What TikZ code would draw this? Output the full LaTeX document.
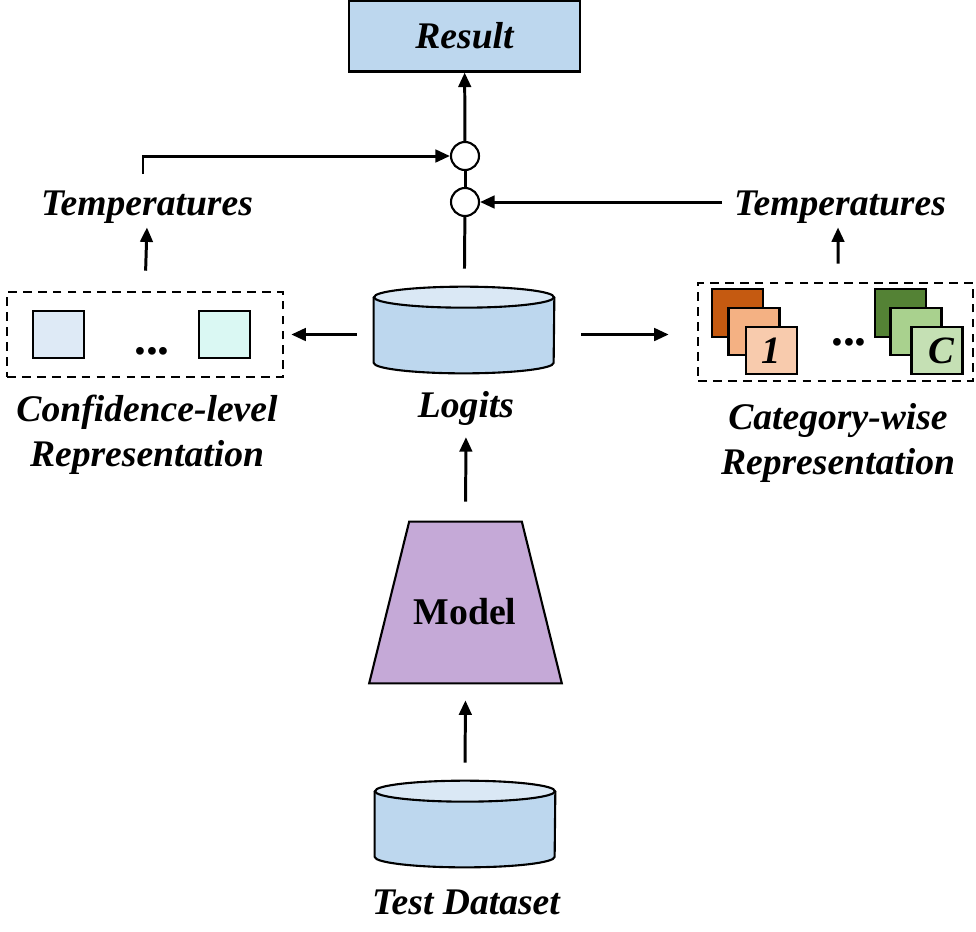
\documentclass[tikz,border=0pt]{standalone}
\usepackage{fontspec}
\setmainfont{Liberation Serif}
\usetikzlibrary{shapes.geometric, arrows.meta, positioning}

\definecolor{boxblue}{HTML}{BDD7EE}
\definecolor{cyltop}{HTML}{DAE8F5}
\definecolor{modelpurple}{HTML}{C5A9D7}
\definecolor{confA}{HTML}{DEEAF6}
\definecolor{confB}{HTML}{DAF8F3}
\definecolor{orangeA}{HTML}{C55A11}
\definecolor{orangeB}{HTML}{F4B183}
\definecolor{orangeC}{HTML}{F8CBAD}
\definecolor{greenA}{HTML}{548235}
\definecolor{greenB}{HTML}{A9D18E}
\definecolor{greenC}{HTML}{C5E0B4}

% cylinder: name, x, y (centre, in px)
\newcommand{\dbcyl}[3]{%
  \node[dbbody] (#1) at (#2,#3) {};
  \draw[line width=1.2pt, fill=boxblue] ([yshift=-0.21cm]#1.north west) -- ([yshift=0.21cm]#1.south west)
    arc[start angle=180, end angle=360, x radius=1.8cm, y radius=0.21cm] -- ([yshift=-0.21cm]#1.north east);
  \draw[line width=1.2pt, fill=cyltop] ([yshift=-0.21cm]#1.north) ellipse[x radius=1.8cm, y radius=0.21cm];
}

\begin{document}
\begin{tikzpicture}[x=0.02cm, y=-0.02cm,
  label/.style={font=\fontsize{21.4}{25.5}\selectfont\bfseries\itshape, align=center, inner sep=1pt},
  resultbox/.style={draw, line width=1.2pt, fill=boxblue, minimum width=4.62cm, minimum height=1.42cm, font=\fontsize{21.4}{25}\selectfont\bfseries\itshape},
  joint/.style={draw, circle, line width=1.2pt, fill=white, minimum size=0.56cm, inner sep=0pt},
  dbbody/.style={draw=none, minimum width=3.6cm, minimum height=1.72cm, inner sep=0pt},
  modelbody/.style={draw=none, minimum width=3.84cm, minimum height=3.22cm, inner sep=0pt},
  group/.style={draw, dash pattern=on 5pt off 3.5pt, line width=1.5pt},
  sq/.style={draw, line width=1.2pt, minimum width=1.02cm, minimum height=0.95cm, inner sep=0pt, font=\fontsize{22}{25}\selectfont\bfseries\itshape},
  dots/.style={font=\fontsize{27}{30}\selectfont\bfseries},
  arrow/.style={-{Triangle[length=0.29cm, width=0.25cm]}, line width=1.7pt},
  line/.style={line width=1.7pt}
]
\useasboundingbox (0,0) rectangle (976,931);

\node[resultbox] (result) at (464.5,36) {\raisebox{-2pt}{Result}};
\node[joint] (cup) at (465,156) {};
\node[joint] (cdown) at (465,202) {};

\node[label] (templ) at (147,207) {Temperatures};
\node[label] (tempr) at (840,207) {Temperatures};

\dbcyl{logits}{464}{330}
\node[label] (logitslab) at (466,408) {Logits};

% confidence-level representation
\node[group, minimum width=5.52cm, minimum height=1.7cm] (confbox) at (145,334.5) {};
\node[sq, fill=confA] (confa) at (58.5,334.5) {};
\node[sq, fill=confB] (confb) at (224.5,334.5) {};
\node[dots] (confdots) at (152,351) {...};
\node[label] (conflab) at (147,435) {Confidence-level\\Representation};

% category-wise representation
\node[group, minimum width=5.5cm, minimum height=1.96cm] (catbox) at (835.5,332) {};
\node[sq, fill=orangeA] (oa) at (737.5,313) {};
\node[sq, fill=orangeB] (ob) at (754,331.5) {};
\node[sq, fill=orangeC] (oc) at (771.5,350.5) {\raisebox{-9pt}{1}};
\node[sq, fill=greenA] (ga) at (900.5,313) {};
\node[sq, fill=greenB] (gb) at (916,331.5) {};
\node[sq, fill=greenC] (gc) at (937,350.5) {\raisebox{-9pt}{\hspace{5pt}C}};
\node[dots] (catdots) at (849,342) {...};
\node[label] (catlab) at (838,443) {Category-wise\\Representation};

% model (trapezium drawn by hand)
\node[modelbody] (model) at (465.5,602.5) {};
\draw[line width=1.2pt, fill=modelpurple] (model.south west) -- (model.south east)
  -- ([xshift=-0.8cm]model.north east) -- ([xshift=0.8cm]model.north west) -- cycle;
\node[font=\fontsize{21.5}{25}\selectfont\bfseries] (modellab) at (465,612) {Model};

\dbcyl{testdata}{465}{824}
\node[label] (testlab) at (466,902) {Test Dataset};

% connectors
\draw[arrow] (cup) -- (result);
\draw[line] (cdown) -- (cup);
\draw[line, shorten <=0.36cm] (logits) -- (cdown);
\coordinate (tlstart) at (143,174);
\draw[arrow] (tlstart) |- (cup);
\draw[arrow, shorten <=0.2cm] (tempr.west |- cdown) -- (cdown);
\draw[arrow, shorten <=0.4cm, shorten >=0.04cm] (confbox.north) -- (templ.south);
\draw[arrow, shorten <=0.36cm, shorten >=0.04cm] ([xshift=0.05cm]catbox.north) -- ([xshift=-0.04cm]tempr.south);
\draw[arrow, shorten <=0.34cm, shorten >=0.14cm] (logits.west |- confbox.east) -- (confbox.east);
\draw[arrow, shorten <=0.54cm, shorten >=0.56cm] (logits.east |- confbox.east) -- (catbox.west |- confbox.east);
\draw[arrow, shorten <=0.4cm, shorten >=0.2cm] (model.north) -- (logitslab.south);
\draw[arrow, shorten <=0.36cm, shorten >=0.34cm] (testdata.north) -- (model.south);

\end{tikzpicture}
\end{document}
